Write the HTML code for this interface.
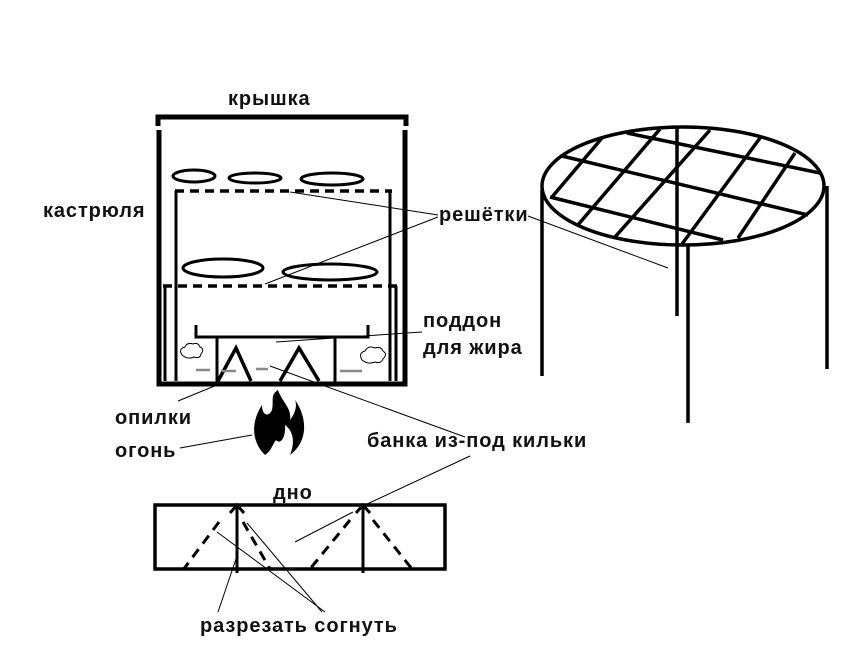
<!DOCTYPE html>
<html><head><meta charset="utf-8"><style>
html,body{margin:0;padding:0;background:#fff;width:858px;height:655px;overflow:hidden}
svg{display:block}
text{font-family:"Liberation Sans","DejaVu Sans",sans-serif;font-weight:bold;font-size:20px;letter-spacing:0.9px;fill:#111}
</style></head><body>
<svg width="858" height="655" viewBox="0 0 858 655" xmlns="http://www.w3.org/2000/svg">
<g stroke="#000" fill="none">
<path d="M158 126 V117 H406 V126" stroke-width="5"/>
<path d="M159 130 V384 H405 V130" stroke-width="5"/>
<line x1="175" y1="191" x2="392" y2="191" stroke-width="3.5" stroke-dasharray="9,6"/>
<path d="M176 191 V381 M390 191 V381" stroke-width="3"/>
<ellipse cx="194" cy="176" rx="21" ry="6" stroke-width="3"/>
<ellipse cx="255" cy="178" rx="26" ry="5" stroke-width="3"/>
<ellipse cx="332" cy="179" rx="31" ry="6" stroke-width="3"/>
<line x1="163" y1="286" x2="399" y2="286" stroke-width="3.5" stroke-dasharray="9,6"/>
<path d="M165 286 V381 M396 286 V381" stroke-width="3"/>
<ellipse cx="223" cy="268" rx="40" ry="9" stroke-width="3"/>
<ellipse cx="330" cy="272" rx="47" ry="8" stroke-width="3"/>
<path d="M196 325 V337 H368 V325" stroke-width="3"/>
<path d="M217 337 V382 M335 337 V382" stroke-width="3"/>
<path d="M218 381 L236 348 L251 381 M280 381 L299 348 L319 381" stroke-width="3.5"/>
<path d="M182 355 q-4 -6 3 -8 q2 -5 8 -3 q5 -2 7 3 q5 2 1 7 q-1 5 -7 3 q-6 3 -12 -2z" stroke-width="1"/>
<path d="M362 360 q-4 -7 3 -9 q3 -6 10 -3 q6 -2 8 3 q5 3 0 8 q-2 5 -8 3 q-7 3 -13 -2z" stroke-width="1"/>
<g stroke="#888" stroke-width="2.5">
<path d="M196 370 h14 M222 371 h14 M256 369 h12 M340 371 h22"/>
</g>
<g stroke-width="1">
<line x1="290" y1="192" x2="438" y2="215"/>
<line x1="265" y1="284" x2="438" y2="217"/>
<line x1="528" y1="216" x2="668" y2="268"/>
<line x1="276" y1="342" x2="422" y2="332"/>
<line x1="178" y1="401" x2="217" y2="385"/>
<line x1="180" y1="448" x2="252" y2="435"/>
<line x1="270" y1="366" x2="465" y2="437"/>
<line x1="470" y1="456" x2="365" y2="505"/>
<line x1="353" y1="512" x2="295" y2="542"/>
<line x1="237" y1="556" x2="218" y2="612"/>
<line x1="217" y1="532" x2="325" y2="612"/>
<line x1="247" y1="523" x2="322" y2="612"/>
</g>
<rect x="155" y="505" width="290" height="64" stroke-width="3.5"/>
<path d="M237 505 V573 M363 505 V573" stroke-width="3"/>
<path d="M230 513 L237 505 L244 513 M356 513 L363 505 L370 513" stroke-width="3"/>
<g stroke-width="3" stroke-dasharray="10,7">
<line x1="219" y1="522" x2="183" y2="570"/>
<line x1="243" y1="522" x2="270" y2="569"/>
<line x1="350" y1="520" x2="310" y2="569"/>
<line x1="373" y1="520" x2="412" y2="569"/>
</g>
<ellipse cx="683" cy="186" rx="141" ry="59" stroke-width="3.5"/>
<g stroke-width="3.5">
<line x1="542" y1="190" x2="542" y2="376"/>
<line x1="827" y1="186" x2="827" y2="369"/>
<line x1="677" y1="127" x2="677" y2="316"/>
<line x1="688" y1="245" x2="688" y2="423"/>
<line x1="627" y1="133" x2="820" y2="173"/>
<line x1="562" y1="156" x2="808" y2="215"/>
<line x1="550" y1="197" x2="723" y2="240"/>
<line x1="552" y1="197" x2="602" y2="138"/>
<line x1="577" y1="226" x2="660" y2="129"/>
<line x1="615" y1="237" x2="710" y2="130"/>
<line x1="682" y1="244" x2="760" y2="138"/>
<line x1="738" y1="238" x2="795" y2="153"/>
</g>
</g>
<path d="M265 455 C250 440 252 420 262 405 C262 415 268 418 272 410 C274 400 270 395 278 390 C282 402 292 408 290 420 C296 412 297 405 295 400 C306 415 310 440 290 455 C296 440 292 430 285 425 C286 438 280 445 276 440 C272 445 272 450 265 455Z" fill="#000"/>
<text x="228" y="105">крышка</text>
<text x="43" y="217">кастрюля</text>
<text x="439" y="221">решётки</text>
<text x="423" y="327">поддон</text>
<text x="423" y="354">для жира</text>
<text x="115" y="424">опилки</text>
<text x="115" y="457">огонь</text>
<text x="367" y="447">банка из-под кильки</text>
<text x="273" y="499">дно</text>
<text x="200" y="632">разрезать согнуть</text>
</svg>
</body></html>
